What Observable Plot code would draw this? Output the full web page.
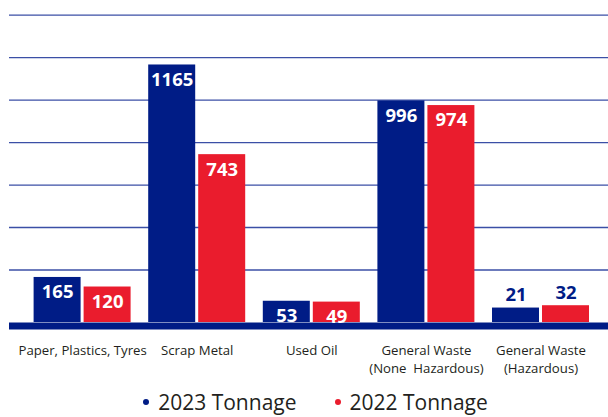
<!DOCTYPE html>
<html>
<head>
<meta charset="utf-8">
<script src="https://cdn.jsdelivr.net/npm/d3@7"></script>
<script src="https://cdn.jsdelivr.net/npm/@observablehq/plot@0.6"></script>
<style>
  html, body { margin: 0; padding: 0; background: #fff; }
  #chart svg text { white-space: pre; }
  #legend {
    height: 32px; overflow: hidden; line-height: 35px;
    font-family: "Open Sans", sans-serif; font-size: 21px; color: #231f20;
    text-align: center; padding-left: 23px; white-space: nowrap;
  }
  #legend .item { display: inline-block; margin: 0 19px; }
  #legend .dot { display: inline-block; width: 6px; height: 6px; border-radius: 50%; margin-right: 9px; vertical-align: 5px; }
</style>
</head>
<body>
<div id="chart"></div>
<div id="legend"></div>
<script>
const categories = ["Paper, Plastics, Tyres", "Scrap Metal", "Used Oil", "General Waste\n(None  Hazardous)", "General Waste\n(Hazardous)"];
const tonnage2023 = [165, 1165, 53, 996, 21];
const tonnage2022 = [120, 743, 49, 974, 32];
const seriesNames = ["2023 Tonnage", "2022 Tonnage"];
const gridValues = [200, 400, 600, 800, 1000, 1200, 1400];

const navy = "#001c86";
const red = "#ea1c2d";
const yMin = -47;

const d23 = categories.map((c, i) => ({category: c, value: tonnage2023[i]}));
const d22 = categories.map((c, i) => ({category: c, value: tonnage2022[i]}));
const inside = d => d.value >= 40;
const outside = d => d.value < 40;

const chart = Plot.plot({
  width: 608,
  height: 385,
  marginLeft: 9,
  marginRight: 0,
  marginTop: 12,
  marginBottom: 63,
  x: {domain: categories, range: [33.6, 589], paddingInner: 0.1536, paddingOuter: 0, round: false, axis: null},
  y: {domain: [yMin, 1412], range: [322, 12], axis: null},
  style: {fontFamily: "'Open Sans', sans-serif", background: "#fff"},
  marks: [
    Plot.ruleY(gridValues, {stroke: "#3b4fa6", strokeWidth: 1.3}),
    Plot.barY(d23, {x: "category", y1: () => yMin, y2: "value", fill: navy, insetRight: 50}),
    Plot.barY(d22, {x: "category", y1: () => yMin, y2: "value", fill: red, insetLeft: 50}),
    Plot.ruleY([yMin], {stroke: navy, strokeWidth: 7, dy: 3.5}),
    Plot.text(d23.filter(inside), {x: "category", y: "value", text: d => String(d.value), dx: -25, dy: 15, lineAnchor: "middle", fill: "white", fontWeight: "bold", fontSize: 18.5}),
    Plot.text(d22.filter(inside), {x: "category", y: "value", text: d => String(d.value), dx: 25, dy: 15, lineAnchor: "middle", fill: "white", fontWeight: "bold", fontSize: 18.5}),
    Plot.text(d23.filter(outside), {x: "category", y: "value", text: d => String(d.value), dx: -25, dy: -13, lineAnchor: "middle", fill: navy, fontWeight: "bold", fontSize: 18.5}),
    Plot.text(d22.filter(outside), {x: "category", y: "value", text: d => String(d.value), dx: 25, dy: -13, lineAnchor: "middle", fill: navy, fontWeight: "bold", fontSize: 18.5}),
    Plot.text(categories, {x: d => d, text: d => d, frameAnchor: "bottom", lineAnchor: "top", dy: 20, fontSize: 13.2, lineHeight: 1.37, fill: "#231f20"})
  ]
});
document.getElementById("chart").appendChild(chart);

const legend = document.getElementById("legend");
[navy, red].forEach((col, i) => {
  const item = document.createElement("span");
  item.className = "item";
  const dot = document.createElement("span");
  dot.className = "dot";
  dot.style.background = col;
  item.appendChild(dot);
  item.appendChild(document.createTextNode(seriesNames[i]));
  legend.appendChild(item);
});
</script>
</body>
</html>
